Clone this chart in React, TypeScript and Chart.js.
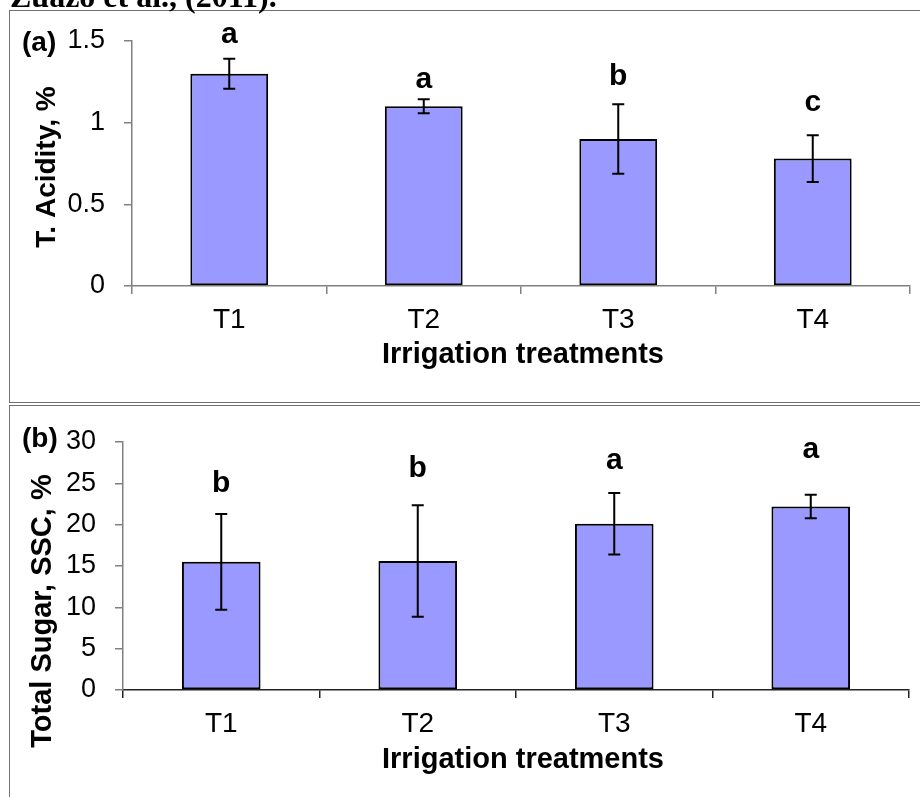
import React, { useEffect, useRef } from 'react';
import { Chart, registerables } from 'chart.js';

Chart.register(...registerables);

// ---------- data ----------
const categories = ['T1', 'T2', 'T3', 'T4'];

const acidity = [1.3, 1.1, 0.9, 0.78];
const acidityErr = [0.092, 0.043, 0.212, 0.143];
const acidityLetters = ['a', 'a', 'b', 'c'];
const acidityLetterY = [1.488, 1.21, 1.231, 1.073];
const acidityTicks = ['0', '0.5', '1', '1.5'];

const sugar = [15.5, 15.6, 20.1, 22.2];
const sugarErr = [5.8, 6.75, 3.72, 1.41];
const sugarLetters = ['b', 'b', 'a', 'a'];
const sugarLetterY = [24.0, 25.8, 26.7, 28.1];
const sugarTicks = ['0', '5', '10', '15', '20', '25', '30'];

const xTitle = 'Irrigation treatments';
const caption = 'Zuazo et al., (2011).';

const SANS = "'Liberation Sans', Arial, sans-serif";
const SERIF = "'Liberation Serif', 'Times New Roman', serif";

type PanelCfg = {
  values: number[];
  errs: number[];
  letters: string[];
  letterY: number[];
  ticks: string[];
  yMax: number;
  yTitle: string;
  tag: string;
  width: number;
  height: number;
  top: number;
  padTop: number;
  padRight: number;
  yAxisW: number;
  xAxisH: number;
  yAxisColor: string;
  xAxisColor: string;
  tagPos: [number, number];
  yTitlePos: [number, number];
  xTitlePos: [number, number];
  yTitleSize: number;
  showCaption: boolean;
};

function makeOverlay(cfg: PanelCfg) {
  return {
    id: 'overlay' + cfg.tag,
    afterDatasetsDraw(chart: any) {
      const ctx = chart.ctx;
      const meta = chart.getDatasetMeta(0);
      const ys = chart.scales.y;
      ctx.save();
      ctx.strokeStyle = '#000';
      ctx.lineWidth = 2;
      meta.data.forEach((bar: any, i: number) => {
        const x = bar.x;
        const yT = ys.getPixelForValue(cfg.values[i] + cfg.errs[i]);
        const yB = ys.getPixelForValue(cfg.values[i] - cfg.errs[i]);
        ctx.beginPath();
        ctx.moveTo(x, yT);
        ctx.lineTo(x, yB);
        ctx.moveTo(x - 6, yT);
        ctx.lineTo(x + 6, yT);
        ctx.moveTo(x - 6, yB);
        ctx.lineTo(x + 6, yB);
        ctx.stroke();
      });
      ctx.restore();
    },
    afterDraw(chart: any) {
      const ctx = chart.ctx;
      const meta = chart.getDatasetMeta(0);
      const ys = chart.scales.y;
      ctx.save();
      ctx.fillStyle = '#000';
      // significance letters
      ctx.font = `bold 30px ${SANS}`;
      ctx.textAlign = 'center';
      ctx.textBaseline = 'alphabetic';
      meta.data.forEach((bar: any, i: number) => {
        ctx.fillText(cfg.letters[i], bar.x, ys.getPixelForValue(cfg.letterY[i]));
      });
      // panel tag
      ctx.font = `bold 28px ${SANS}`;
      ctx.textAlign = 'left';
      ctx.fillText(cfg.tag, cfg.tagPos[0], cfg.tagPos[1]);
      // x title
      ctx.font = `bold 29px ${SANS}`;
      ctx.textAlign = 'center';
      ctx.fillText(xTitle, cfg.xTitlePos[0], cfg.xTitlePos[1]);
      // y title
      ctx.save();
      ctx.translate(cfg.yTitlePos[0], cfg.yTitlePos[1]);
      ctx.rotate(-Math.PI / 2);
      ctx.font = `bold ${cfg.yTitleSize}px ${SANS}`;
      ctx.textAlign = 'center';
      ctx.fillText(cfg.yTitle, 0, 0);
      ctx.restore();
      if (cfg.showCaption) {
        ctx.font = `bold 32px ${SERIF}`;
        ctx.textAlign = 'left';
        ctx.fillText(caption, 10, 7);
      }
      ctx.restore();
    },
  };
}

function Panel({ cfg }: { cfg: PanelCfg }) {
  const ref = useRef<HTMLCanvasElement>(null);
  useEffect(() => {
    if (!ref.current) return;
    const chart = new Chart(ref.current, {
      type: 'bar',
      data: {
        labels: categories,
        datasets: [
          {
            data: cfg.values,
            backgroundColor: '#9999FF',
            borderColor: '#000000',
            borderWidth: 2,
            borderSkipped: false,
            barPercentage: 0.4,
            categoryPercentage: 1,
          } as any,
        ],
      },
      options: {
        responsive: false,
        animation: false,
        devicePixelRatio: 1,
        layout: { padding: { left: 0, right: cfg.padRight, top: cfg.padTop, bottom: 0 } },
        plugins: { legend: { display: false }, tooltip: { enabled: false } },
        scales: {
          x: {
            grid: { drawOnChartArea: false, tickLength: 8, color: cfg.xAxisColor, lineWidth: 1.5 },
            border: { color: cfg.xAxisColor, width: 1.5 },
            ticks: { font: { family: SANS, size: 28 }, color: '#000', padding: 9 },
            afterFit: (s: any) => {
              s.height = cfg.xAxisH;
            },
          },
          y: {
            min: 0,
            max: cfg.yMax,
            grid: { drawOnChartArea: false, tickLength: 8, color: cfg.yAxisColor, lineWidth: 1.5 },
            border: { color: cfg.yAxisColor, width: 1.5 },
            ticks: {
              font: { family: SANS, size: 27 },
              color: '#000',
              padding: 19,
              callback: (_v: any, i: number) => cfg.ticks[i],
            },
            afterBuildTicks: (s: any) => {
              s.ticks = cfg.ticks.map((t) => ({ value: parseFloat(t) }));
            },
            afterFit: (s: any) => {
              s.width = cfg.yAxisW;
            },
          },
        },
      } as any,
      plugins: [makeOverlay(cfg)],
    });
    return () => chart.destroy();
  }, [cfg]);
  return (
    <canvas
      ref={ref}
      width={cfg.width}
      height={cfg.height}
      style={{ position: 'absolute', left: 0, top: cfg.top, width: cfg.width, height: cfg.height }}
    />
  );
}

const panelA: PanelCfg = {
  values: acidity,
  errs: acidityErr,
  letters: acidityLetters,
  letterY: acidityLetterY,
  ticks: acidityTicks,
  yMax: 1.5,
  yTitle: 'T. Acidity, %',
  tag: '(a)',
  width: 920,
  height: 400,
  top: 0,
  padTop: 41,
  padRight: 10,
  yAxisW: 132,
  xAxisH: 114,
  yAxisColor: '#808080',
  xAxisColor: '#808080',
  tagPos: [22, 51],
  yTitlePos: [55, 167],
  xTitlePos: [523, 363],
  yTitleSize: 28,
  showCaption: true,
};

const panelB: PanelCfg = {
  values: sugar,
  errs: sugarErr,
  letters: sugarLetters,
  letterY: sugarLetterY,
  ticks: sugarTicks,
  yMax: 30,
  yTitle: 'Total Sugar, SSC, %',
  tag: '(b)',
  width: 920,
  height: 393,
  top: 404,
  padTop: 38,
  padRight: 11,
  yAxisW: 123,
  xAxisH: 107,
  yAxisColor: '#808080',
  xAxisColor: '#222222',
  tagPos: [22, 43],
  yTitlePos: [51, 207],
  xTitlePos: [523, 364],
  yTitleSize: 29,
  showCaption: false,
};

export default function App() {
  return (
    <div
      style={{
        position: 'fixed',
        left: 0,
        top: 0,
        width: 920,
        height: 797,
        background: '#fff',
        overflow: 'hidden',
      }}
    >
      <div
        style={{
          position: 'absolute',
          left: 9,
          top: 10,
          width: 960,
          height: 391,
          border: '1px solid #707070',
        }}
      />
      <div
        style={{
          position: 'absolute',
          left: 9,
          top: 405,
          width: 960,
          height: 460,
          border: '1px solid #707070',
        }}
      />
      <Panel cfg={panelA} />
      <Panel cfg={panelB} />
    </div>
  );
}
